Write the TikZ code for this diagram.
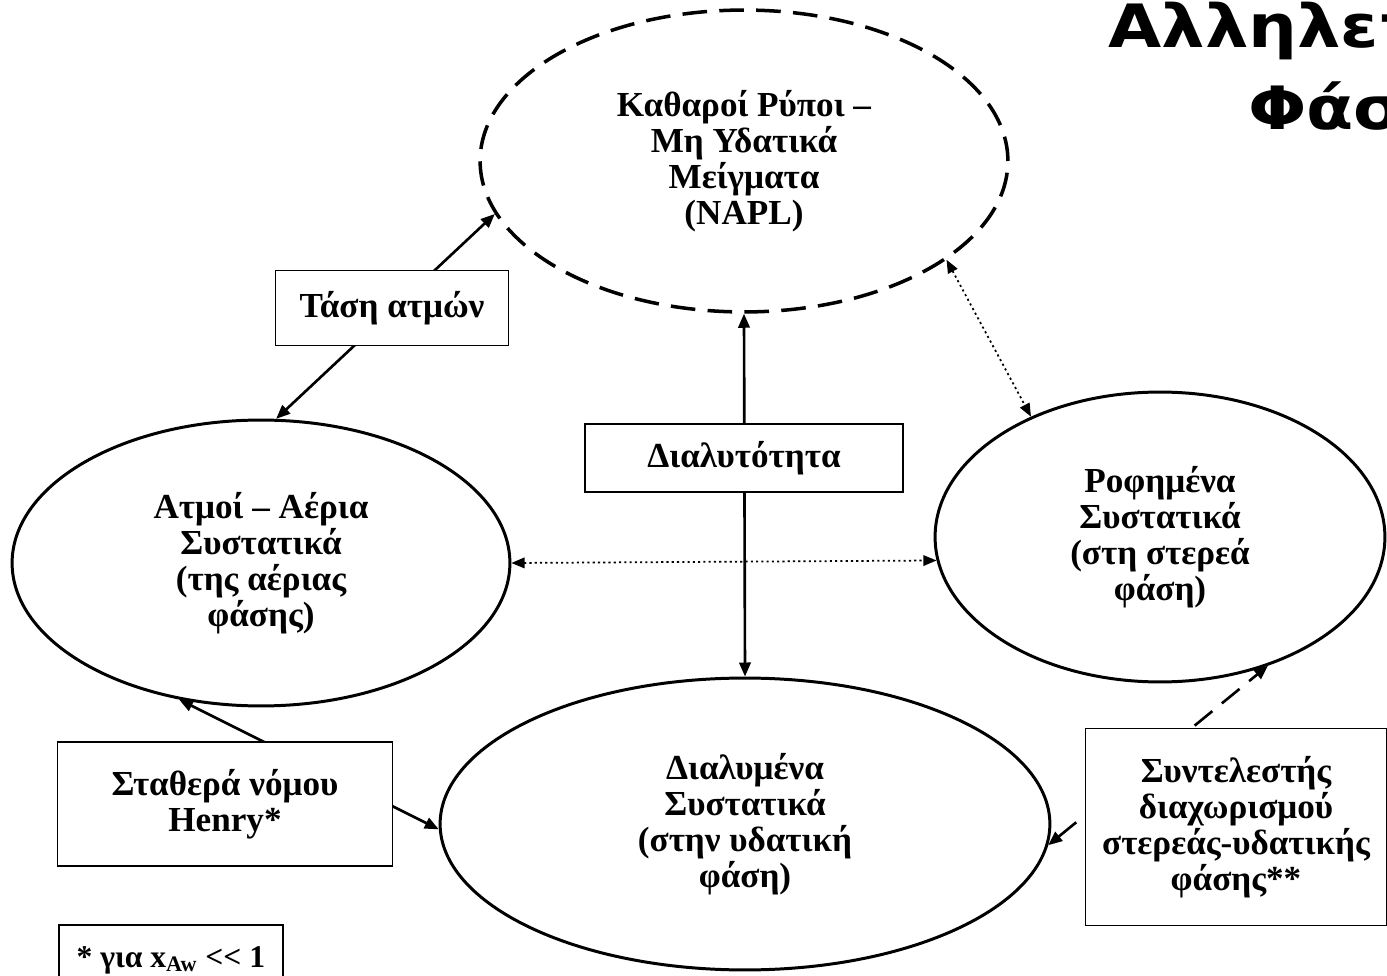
\documentclass[tikz,border=0pt]{standalone}
\usepackage{fontspec}
\setmainfont{Liberation Serif}
\newfontfamily\titlefont[FakeStretch=1.15]{DejaVu Sans}
\usetikzlibrary{shapes.geometric,arrows.meta}

\begin{document}
\begin{tikzpicture}[x=0.02cm,y=-0.02cm,
    font=\fontsize{20}{20.5}\selectfont\bfseries,
    phase/.style 2 args={shape=ellipse,draw=black,line width=1.7pt,inner sep=0pt,align=center,
        minimum width=#1*0.04cm,minimum height=#2*0.04cm},
    coeff/.style 2 args={shape=rectangle,draw=black,fill=white,line width=1.1pt,align=center,
        minimum width=#1*0.02cm,minimum height=#2*0.02cm},
    link/.style={line width=1.5pt,{Triangle[length=8pt,width=6.5pt]}-{Triangle[length=8pt,width=6.5pt]}},
    weak/.style={line width=1pt,dash pattern=on 1.2pt off 1.8pt,{Triangle[length=7.5pt,width=6pt]}-{Triangle[length=7.5pt,width=6pt]}}]
    \useasboundingbox (0,0) rectangle (1387,976);

    \node[anchor=base west,inner sep=0pt,font=\titlefont\bfseries\fontsize{34}{40}\selectfont] (title1) at (1108,48) {Αλληλεπιδράσεις};
    \node[anchor=base west,inner sep=0pt,font=\titlefont\bfseries\fontsize{34}{40}\selectfont] (title2) at (1248,130) {Φάσεων};

    \node[phase={264}{151},line width=2pt,dash pattern=on 14pt off 7pt] (napl) at (744,161) {Καθαροί Ρύποι –\\Μη Υδατικά\\Μείγματα\\(NAPL)};
    \node[phase={249}{143}] (atmoi) at (261,563) {Ατμοί – Αέρια\\Συστατικά\\(της αέριας\\φάσης)};
    \node[phase={225}{145}] (rof) at (1160,537) {Ροφημένα\\Συστατικά\\(στη στερεά\\φάση)};
    \node[phase={305}{146}] (dial) at (745,824) {Διαλυμένα\\Συστατικά\\(στην υδατική\\φάση)};

    %\path [link] (atmoi) edge (napl);
    \path[link] (atmoi.84) edge (napl.192);
    \path[link] (napl.south) edge (dial.north);
    \path[weak] (atmoi.east) edge (rof.186);
    \path[weak] (napl.334) edge (rof.137);
    \path[link] (atmoi.239) edge (dial.181);
    \path[link,dash pattern=on 13pt off 7pt] (dial.356) edge (rof.310);

    \node[coeff={233}{75}] (tasi) at (392,308) {Τάση ατμών};
    \node[coeff={318}{68}] (dialyt) at (744,458) {Διαλυτότητα};
    \node[coeff={335}{124}] (henry) at (225,804) {Σταθερά νόμου\\Henry*};
    \node[coeff={301}{197}] (syntel) at (1236,827) {Συντελεστής\\διαχωρισμού\\στερεάς-υδατικής\\φάσης**};
    \node[coeff={0}{70},anchor=west,inner xsep=10pt,font=\fontsize{18}{20}\selectfont\bfseries] (note) at (58,960) {* για x\textsubscript{Aw} <{}< 1};
\end{tikzpicture}
\end{document}
